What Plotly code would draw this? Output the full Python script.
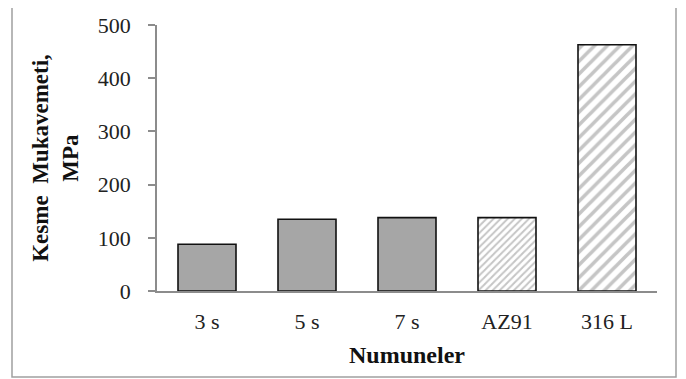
import plotly.graph_objects as go

categories = ["3 s", "5 s", "7 s", "AZ91", "316 L"]
values = [88, 135, 138, 138, 463]
hatch_sizes = [0, 0, 0, 5, 9]   # 0 = solid grey fill
y_ticks = [0, 100, 200, 300, 400, 500]

FONT = "Liberation Serif, Times New Roman, serif"
OFF = 8  # page body margin

fig = go.Figure()
solid_x = [c for c, s in zip(categories, hatch_sizes) if s == 0]
solid_y = [v for v, s in zip(values, hatch_sizes) if s == 0]
fig.add_trace(go.Bar(
    x=solid_x, y=solid_y,
    marker=dict(color="#a6a6a6", line=dict(color="#111111", width=1.6)),
    showlegend=False,
))
for c, v, s in zip(categories, values, hatch_sizes):
    if s == 0:
        continue
    fig.add_trace(go.Bar(
        x=[c], y=[v],
        marker=dict(
            color="white",
            line=dict(color="#111111", width=1.6),
            pattern=dict(shape="/", size=s, fgcolor="#8c8c8c",
                         bgcolor="white", solidity=0.4),
        ),
        showlegend=False,
    ))

W, H = 686 - OFF, 379 - OFF
L, R, T, B = 157 - OFF, 29, 25 - OFF, 379 - 291
pw, ph = W - L - R, H - T - B

fig.update_layout(
    width=W, height=H,
    margin=dict(l=L, r=R, t=T, b=B, pad=0, autoexpand=False),
    paper_bgcolor="white", plot_bgcolor="white",
    barmode="overlay",
    bargap=0.42,
    font=dict(family=FONT, size=22, color="#222222"),
    xaxis=dict(
        categoryorder="array", categoryarray=categories,
        showline=True, linecolor="#8c8c8c", linewidth=1.5,
        ticks="", showgrid=False, ticklabelstandoff=10, automargin=False,
        tickfont=dict(family=FONT, size=22, color="#222222"),
        title=dict(text="<b>Numuneler</b>", font=dict(family=FONT, size=24, color="#111111"), standoff=13),
    ),
    yaxis=dict(
        range=[0, 500], tickvals=y_ticks,
        showline=True, linecolor="#8c8c8c", linewidth=1.5,
        ticks="outside", ticklen=7, tickcolor="#8c8c8c", tickwidth=1.5,
        showgrid=False, zeroline=False, ticklabelstandoff=13, automargin=False,
        tickfont=dict(family=FONT, size=22, color="#222222"),
        title=dict(text="<b>Kesme  Mukavemeti,<br>MPa</b>", font=dict(family=FONT, size=23, color="#111111"), standoff=13),
    ),
    shapes=[dict(
        type="rect", xref="paper", yref="paper",
        x0=(12 - 157) / pw, x1=(676 - 157) / pw,
        y0=(291 - 377) / ph, y1=(291 - 7) / ph,
        line=dict(color="#a0a0a0", width=1.5), fillcolor="rgba(0,0,0,0)",
        layer="below",
    )],
)

fig.write_html("out.html")
